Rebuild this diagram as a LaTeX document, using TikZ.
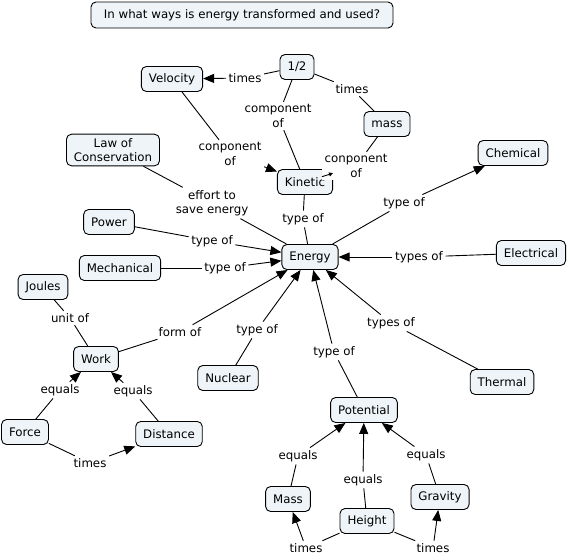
\documentclass[tikz,border=0pt]{standalone}
\usepackage{fontspec}
\setmainfont{DejaVu Sans}
\usetikzlibrary{arrows.meta}
\definecolor{nodefill}{RGB}{238,244,247}
\begin{document}
\begin{tikzpicture}[x=1pt,y=-1pt,
  concept/.style={draw=black, line width=0.9pt, rounded corners=5pt, fill=nodefill,
    inner xsep=7.5pt, inner ysep=4pt, minimum height=25pt,
    font=\fontsize{11.8}{14.5}\selectfont, align=center},
  lbl/.style={fill=white, inner sep=2.5pt, font=\fontsize{11.8}{14.5}\selectfont, align=center},
  link/.style={line width=0.9pt},
  arr/.style={link, -{Triangle[length=11pt,width=9pt]}},
  sarr/.style={link, -{Triangle[length=4pt,width=4pt]}}]
\useasboundingbox (0,0) rectangle (568,555);
% concepts
\node[concept, minimum height=26pt, minimum width=302pt] (title) at (242,15) {In what ways is energy transformed and used?};
\node[concept] (vel) at (172,79) {Velocity};
\node[concept] (half) at (297,67) {1/2};
\node[concept] (mass) at (387,124) {mass};
\node[concept] (kin) at (305,182) {Kinetic};
\node[concept] (chem) at (513,153) {Chemical};
\node[concept] (law) at (113,150) {Law of\\Conservation};
\node[concept] (power) at (109,222) {Power};
\node[concept] (mech) at (120,268) {Mechanical};
\node[concept] (energy) at (310,257) {Energy};
\node[concept] (elec) at (531,253) {Electrical};
\node[concept] (joules) at (43,287) {Joules};
\node[concept] (work) at (96,359) {Work};
\node[concept] (nuc) at (228,378) {Nuclear};
\node[concept] (therm) at (502,382) {Thermal};
\node[concept] (pot) at (364,410) {Potential};
\node[concept] (force) at (25,432) {Force};
\node[concept] (dist) at (169,434) {Distance};
\node[concept] (Mass) at (288,499) {Mass};
\node[concept] (height) at (367,521) {Height};
\node[concept] (grav) at (440,497) {Gravity};
% linking phrases
\node[lbl] (l1) at (245,78) {times};
\node[lbl] (l2) at (278,116) {component\\of};
\node[lbl] (l3) at (352,89) {times};
\node[lbl] (l4) at (230,154) {conponent\\of};
\node[lbl] (l5) at (356,166) {conponent\\of};
\node[lbl] (l6) at (212,203) {effort to\\save energy};
\node[lbl] (l7) at (303,219) {type of};
\node[lbl] (l8) at (404,203) {type of};
\node[lbl] (l9) at (212,241) {type of};
\node[lbl] (l10) at (225,268) {type of};
\node[lbl] (l11) at (419,257) {types of};
\node[lbl] (l12) at (70,318) {unit of};
\node[lbl] (l13) at (180,332) {form of};
\node[lbl] (l14) at (257,330) {type of};
\node[lbl] (l15) at (334,352) {type of};
\node[lbl] (l16) at (391,323) {types of};
\node[lbl] (l17) at (60,390) {equals};
\node[lbl] (l18) at (133,391) {equals};
\node[lbl] (l19) at (90,463) {times};
\node[lbl] (l20) at (298,456) {equals};
\node[lbl] (l21) at (363,480) {equals};
\node[lbl] (l22) at (426,455) {equals};
\node[lbl] (l23) at (306,548) {times};
\node[lbl] (l24) at (433,548) {times};
% connectors
\draw[link] (half) -- (l1); \draw[arr] (l1) -- (vel);
\draw[link] (half) -- (l2); \draw[link] (l2) -- (kin);
\draw[link] (half) -- (l3); \draw[link] (l3) -- (mass);
\draw[link] (vel) -- (l4); \draw[arr] (l4) -- (kin);
\draw[link] (mass) -- (l5); \draw[sarr] (l5) -- (kin);
\draw[link] (law) -- (l6); \draw[link] (l6) -- (energy);
\draw[link] (kin) -- (l7); \draw[link] (l7) -- (energy);
\draw[link] (energy) -- (l8); \draw[arr] (l8) -- (chem);
\draw[link] (power) -- (l9); \draw[arr] (l9) -- (energy);
\draw[link] (mech) -- (l10); \draw[arr] (l10) -- (energy);
\draw[link] (elec) -- (l11); \draw[arr] (l11) -- (energy);
\draw[link] (joules) -- (l12); \draw[link] (l12) -- (work);
\draw[link] (work) -- (l13); \draw[arr] (l13) -- (energy);
\draw[link] (nuc) -- (l14); \draw[arr] (l14) -- (energy);
\draw[link] (pot) -- (l15); \draw[arr] (l15) -- (energy);
\draw[link] (therm) -- (l16); \draw[arr] (l16) -- (energy);
\draw[link] (force) -- (l17); \draw[arr] (l17) -- (work);
\draw[link] (dist) -- (l18); \draw[arr] (l18) -- (work);
\draw[link] (force) -- (l19); \draw[arr] (l19) -- (dist);
\draw[link] (Mass) -- (l20); \draw[arr] (l20) -- (pot);
\draw[link] (height) -- (l21); \draw[arr] (l21) -- (pot);
\draw[link] (grav) -- (l22); \draw[arr] (l22) -- (pot);
\draw[link] (height) -- (l23); \draw[arr] (l23) -- (Mass);
\draw[link] (height) -- (l24); \draw[arr] (l24) -- (grav);
\end{tikzpicture}
\end{document}
